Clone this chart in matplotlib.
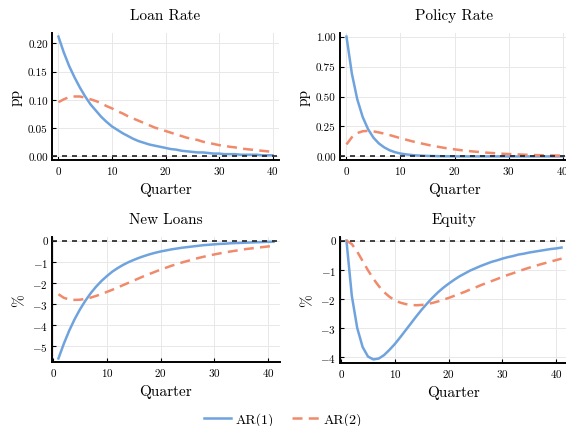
import numpy as np
import matplotlib.pyplot as plt

plt.rcParams['font.family'] = 'serif'
plt.rcParams['font.serif'] = ['cmr10']
plt.rcParams['mathtext.fontset'] = 'cm'
plt.rcParams['axes.formatter.use_mathtext'] = True

# horizons
q_top = np.arange(0, 41)
q_bot = np.arange(1, 42)

# Loan Rate (pp)
loan_ar1 = [0.212, 0.184, 0.160, 0.140, 0.122, 0.106, 0.092, 0.081, 0.070, 0.061,
            0.053, 0.047, 0.041, 0.036, 0.031, 0.027, 0.024, 0.021, 0.019, 0.017,
            0.015, 0.013, 0.012, 0.010, 0.009, 0.008, 0.007, 0.007, 0.006, 0.005,
            0.005, 0.004, 0.004, 0.004, 0.003, 0.003, 0.003, 0.003, 0.002, 0.002, 0.002]
loan_ar2 = [0.096, 0.101, 0.105, 0.106, 0.106, 0.104, 0.101, 0.098, 0.094, 0.089,
            0.085, 0.080, 0.076, 0.071, 0.067, 0.063, 0.059, 0.055, 0.051, 0.048,
            0.045, 0.042, 0.039, 0.036, 0.033, 0.031, 0.029, 0.026, 0.024, 0.022,
            0.020, 0.019, 0.017, 0.016, 0.014, 0.013, 0.012, 0.011, 0.010, 0.009, 0.008]

# Policy Rate (pp)
policy_ar1 = [1.000, 0.690, 0.476, 0.329, 0.227, 0.156, 0.108, 0.075, 0.051, 0.035,
              0.024, 0.017, 0.012, 0.008, 0.006, 0.004, 0.003, 0.002, 0.001, 0.001,
              0.001, 0.000, 0.000, 0.000, 0.000, 0.000, 0.000, 0.000, 0.000, 0.000,
              0.000, 0.000, 0.000, 0.000, 0.000, 0.000, 0.000, 0.000, 0.000, 0.000, 0.000]
policy_ar2 = [0.100, 0.160, 0.195, 0.210, 0.213, 0.209, 0.200, 0.190, 0.178, 0.165,
              0.152, 0.140, 0.128, 0.117, 0.107, 0.097, 0.088, 0.080, 0.072, 0.065,
              0.059, 0.053, 0.048, 0.043, 0.039, 0.035, 0.031, 0.028, 0.025, 0.022,
              0.020, 0.018, 0.016, 0.014, 0.013, 0.011, 0.010, 0.009, 0.008, 0.007, 0.007]

# New Loans (%)
newloans_ar1 = [-5.60, -4.90, -4.28, -3.74, -3.27, -2.86, -2.50, -2.19, -1.92, -1.69,
                -1.48, -1.31, -1.16, -1.03, -0.92, -0.82, -0.73, -0.65, -0.58, -0.52,
                -0.47, -0.42, -0.38, -0.34, -0.31, -0.28, -0.25, -0.22, -0.20, -0.18,
                -0.16, -0.15, -0.13, -0.12, -0.11, -0.10, -0.09, -0.08, -0.07, -0.06, -0.06]
newloans_ar2 = [-2.55, -2.72, -2.80, -2.82, -2.81, -2.77, -2.71, -2.63, -2.54, -2.44,
                -2.34, -2.23, -2.12, -2.01, -1.90, -1.79, -1.68, -1.58, -1.48, -1.38,
                -1.29, -1.20, -1.12, -1.04, -0.97, -0.90, -0.83, -0.77, -0.71, -0.66,
                -0.61, -0.56, -0.52, -0.48, -0.44, -0.40, -0.37, -0.34, -0.31, -0.28, -0.26]

# Equity (%)
equity_ar1 = [0.00, -1.90, -3.00, -3.65, -3.98, -4.08, -4.05, -3.93, -3.75, -3.55,
              -3.32, -3.08, -2.84, -2.60, -2.37, -2.16, -1.96, -1.78, -1.62, -1.48,
              -1.35, -1.23, -1.13, -1.03, -0.95, -0.87, -0.80, -0.73, -0.68, -0.62,
              -0.57, -0.53, -0.48, -0.45, -0.41, -0.38, -0.35, -0.32, -0.29, -0.27, -0.24]
equity_ar2 = [0.00, -0.12, -0.38, -0.70, -1.02, -1.31, -1.56, -1.77, -1.93, -2.05,
              -2.13, -2.18, -2.21, -2.22, -2.21, -2.18, -2.14, -2.09, -2.03, -1.97,
              -1.90, -1.83, -1.76, -1.68, -1.61, -1.53, -1.46, -1.39, -1.32, -1.25,
              -1.18, -1.12, -1.05, -0.99, -0.93, -0.88, -0.82, -0.77, -0.72, -0.67, -0.62]

blue = '#6fa3de'
orange = '#f08a6a'

panels = [
    ("Loan Rate", q_top, loan_ar1, loan_ar2, "pp", [0, 0.05, 0.10, 0.15, 0.20], "{:.2f}"),
    ("Policy Rate", q_top, policy_ar1, policy_ar2, "pp", [0, 0.25, 0.5, 0.75, 1.0], "{:.2f}"),
    ("New Loans", q_bot, newloans_ar1, newloans_ar2, "%", [-5, -4, -3, -2, -1, 0], None),
    ("Equity", q_bot, equity_ar1, equity_ar2, "%", [-4, -3, -2, -1, 0], None),
]

# axes rectangles in pixels: left, right, top, bottom (right column runs past the edge)
W, H = 566, 427
rects = [(52, 279, 34, 161), (340, 569, 34, 161), (52, 280, 238, 363), (340, 568, 238, 364)]

fig = plt.figure(figsize=(W / 100, H / 100), dpi=100)
handles = None
for (title, x, a1, a2, ylab, yt, fmt), (l, r, t, b) in zip(panels, rects):
    ax = fig.add_axes([l / W, 1 - b / H, (r - l) / W, (b - t) / H])
    h1, = ax.plot(x, a1, color=blue, lw=1.8, label="AR(1)")
    h2, = ax.plot(x, a2, color=orange, lw=1.8, ls=(0, (4, 2.5)), label="AR(2)")
    ax.axhline(0, color='#222222', lw=1.2, ls=(0, (3, 3)), zorder=3)
    handles = [h1, h2]

    allv = np.concatenate([a1, a2, [0]])
    lo, hi = allv.min(), allv.max()
    pad = 0.03 * (hi - lo)
    ax.set_ylim(lo - pad, hi + pad)
    xpad = 0.03 * (x.max() - x.min())
    ax.set_xlim(x.min() - xpad, x.max() + xpad)

    ax.set_xticks([0, 10, 20, 30, 40])
    ax.set_yticks(yt)
    if fmt:
        ax.set_yticklabels([fmt.format(v) for v in yt])
    else:
        ax.set_yticklabels([r"$-%d$" % -v if v < 0 else "0" for v in yt])

    ax.set_title(title, fontsize=11, pad=10)
    ax.set_xlabel("Quarter", fontsize=11)
    ax.set_ylabel(ylab, fontsize=11)
    ax.grid(True, color='#e8e8e8', lw=0.7)
    ax.set_axisbelow(True)
    for s in ['top', 'right']:
        ax.spines[s].set_visible(False)
    for s in ['left', 'bottom']:
        ax.spines[s].set_linewidth(1.4)
    ax.tick_params(direction='in', length=3, width=0.8, labelsize=8, pad=3)

fig.legend(handles, ["AR(1)", "AR(2)"], loc='center', bbox_to_anchor=(0.5, 1 - 420 / H),
           ncol=2, frameon=False, fontsize=10, handlelength=2.0, handletextpad=0.3,
           columnspacing=1.3)

fig.savefig("out.png", dpi=100)
